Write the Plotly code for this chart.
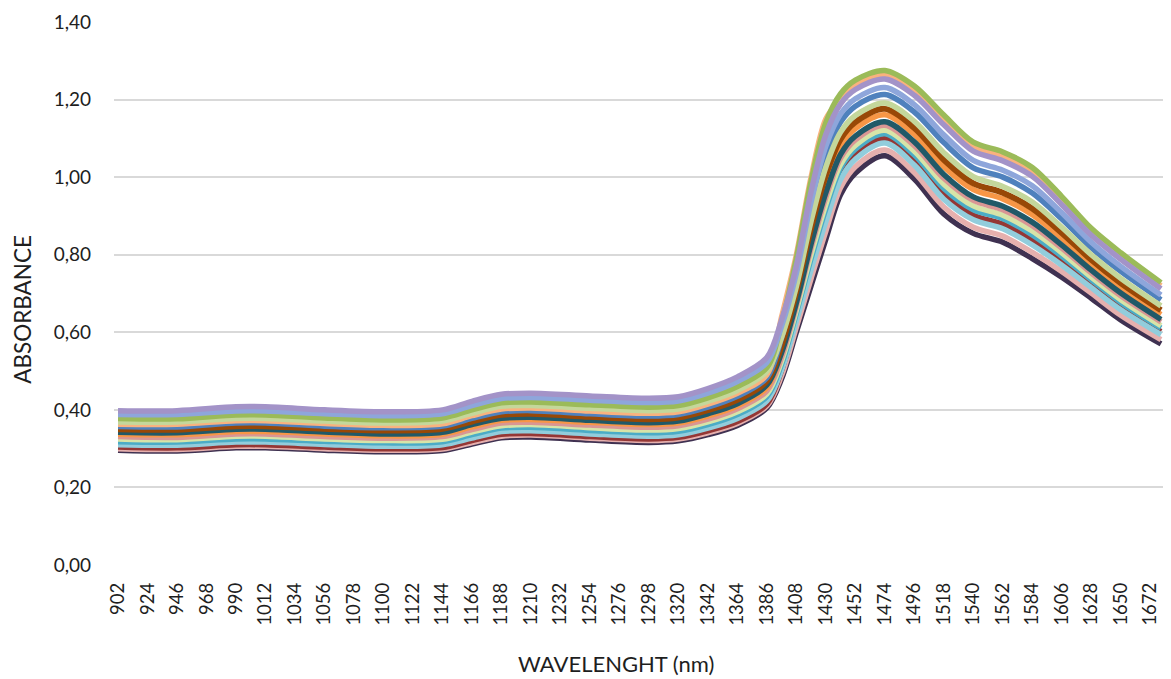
import plotly.graph_objects as go

wavelength = [902, 946, 990, 1012, 1056, 1100, 1144, 1166, 1188, 1210, 1254, 1298, 1320, 1342,
              1364, 1386, 1397, 1408, 1419, 1430, 1441, 1452, 1474, 1496, 1518, 1540, 1562,
              1584, 1606, 1628, 1650, 1680]

tick_values = list(range(902, 1673, 22))
tick_labels = [str(v) for v in tick_values]

s_purple = [.398, .398, .408, .408, .400, .395, .400, .422, .440, .443, .436, .430, .434, .455, .485, .535,
            .632, .771, .963, 1.110, 1.189, 1.226, 1.253, 1.211, 1.135, 1.067, 1.042, 1.002, .929, .850, .788, .712]
s_periwinkle = [.388, .388, .397, .397, .390, .385, .390, .411, .429, .432, .425, .419, .423, .443, .473, .522,
                .616, .752, .936, 1.080, 1.163, 1.202, 1.231, 1.187, 1.109, 1.043, 1.018, .978, .908, .832, .770, .696]
s_green = [.378, .377, .387, .387, .379, .374, .379, .400, .418, .420, .413, .407, .411, .431, .460, .509,
           .624, .790, .990, 1.140, 1.215, 1.250, 1.275, 1.235, 1.160, 1.090, 1.065, 1.025, .950, .868, .805, .728]
s_lightgreen = [.369, .369, .378, .378, .371, .366, .371, .391, .409, .411, .404, .398, .402, .422, .450, .499,
                .587, .718, .887, 1.026, 1.116, 1.159, 1.191, 1.144, 1.063, 1.001, .976, .936, .871, .800, .739, .668]
s_lightorange = [.363, .363, .372, .372, .365, .360, .364, .385, .402, .405, .397, .391, .395, .415, .443, .491,
                 .640, .800, 1.000, 1.150, 1.202, 1.238, 1.264, 1.223, 1.147, 1.078, 1.053, 1.013, .939, .859, .796, .720]
s_blue = [.357, .356, .366, .366, .358, .354, .358, .378, .395, .398, .390, .384, .388, .407, .435, .483,
          .586, .737, .914, 1.056, 1.142, 1.183, 1.213, 1.168, 1.089, 1.024, 1.000, .959, .892, .818, .757, .684]
s_brown = [.350, .349, .358, .358, .351, .347, .351, .370, .387, .390, .382, .376, .380, .399, .426, .474,
           .566, .705, .869, 1.005, 1.098, 1.142, 1.176, 1.127, 1.045, .984, .960, .919, .856, .787, .727, .657]
s_darkteal = [.342, .341, .350, .350, .343, .338, .342, .362, .378, .381, .373, .367, .371, .390, .416, .464,
              .548, .676, .828, .960, 1.059, 1.106, 1.143, 1.091, 1.007, .949, .925, .884, .825, .760, .701, .633]
s_orange = [.337, .336, .344, .344, .338, .333, .337, .356, .373, .375, .368, .362, .366, .384, .410, .457,
            .550, .691, .850, .984, 1.080, 1.125, 1.161, 1.110, 1.027, .968, .944, .903, .842, .774, .715, .646]
s_pink = [.331, .329, .338, .338, .331, .327, .331, .349, .366, .368, .361, .355, .359, .376, .403, .449,
          .536, .668, .817, .948, 1.049, 1.096, 1.134, 1.081, .997, .940, .916, .875, .817, .753, .694, .627]
s_paleyellow = [.325, .323, .332, .332, .325, .321, .324, .343, .359, .362, .354, .348, .352, .369, .395, .441,
                .526, .657, .801, .930, 1.033, 1.082, 1.121, 1.067, .982, .926, .902, .861, .805, .742, .684, .617]
s_aqua = [.318, .317, .325, .325, .319, .315, .318, .336, .353, .355, .347, .341, .345, .362, .388, .434,
          .518, .649, .790, .918, 1.023, 1.072, 1.112, 1.057, .971, .916, .893, .851, .796, .735, .677, .611]
s_lightaqua = [.310, .309, .317, .317, .311, .306, .310, .327, .344, .346, .338, .332, .336, .353, .378, .423,
               .503, .629, .761, .885, .994, 1.046, 1.088, 1.031, .943, .890, .867, .825, .773, .715, .658, .594]
s_darkred = [.304, .302, .310, .310, .304, .300, .303, .321, .337, .339, .331, .325, .329, .346, .370, .415,
             .502, .638, .774, .900, 1.007, 1.058, 1.099, 1.043, .956, .902, .879, .837, .784, .724, .667, .602]
s_salmon = [.300, .298, .306, .306, .300, .296, .299, .316, .332, .335, .327, .321, .325, .341, .365, .410,
            .489, .613, .739, .861, .973, 1.027, 1.070, 1.012, .923, .871, .848, .806, .757, .701, .644, .581]
s_navy = [.296, .294, .302, .302, .296, .292, .295, .312, .328, .330, .322, .316, .320, .336, .360, .405,
          .480, .600, .720, .840, .955, 1.010, 1.055, .995, .905, .855, .832, .790, .742, .688, .632, .570]

# drawn bottom-most first
series = [
    ("navy", s_navy, "#3F3151"),
    ("salmon", s_salmon, "#E6B0AE"),
    ("darkred", s_darkred, "#953735"),
    ("lightaqua", s_lightaqua, "#92CDDC"),
    ("aqua", s_aqua, "#4BACC6"),
    ("paleyellow", s_paleyellow, "#D7E4A8"),
    ("pink", s_pink, "#D99694"),
    ("orange", s_orange, "#F79646"),
    ("darkteal", s_darkteal, "#215968"),
    ("brown", s_brown, "#984807"),
    ("blue", s_blue, "#4F81BD"),
    ("lightorange", s_lightorange, "#F9B27E"),
    ("lightgreen", s_lightgreen, "#C4D79B"),
    ("green", s_green, "#9BBB59"),
    ("periwinkle", s_periwinkle, "#8EA6DB"),
    ("purple", s_purple, "#A393C8"),
]

fig = go.Figure()
for name, vals, color in series:
    fig.add_trace(go.Scatter(
        x=wavelength, y=vals, mode="lines", name=name,
        line=dict(color=color, width=6 if name == "brown" else 5.5, shape="spline", smoothing=0.9),
        hoverinfo="skip",
    ))

font_family = "Lato, 'Open Sans', sans-serif"
text_color = "#1E1E1E"

# page body has an 8px offset, so the figure is sized to fit the window exactly
fig.update_layout(
    width=1163, height=671,
    margin=dict(l=106, r=8, t=14, b=114, autoexpand=False),
    paper_bgcolor="white", plot_bgcolor="white",
    showlegend=False,
    separators=",.",
    font=dict(family=font_family, size=18, color=text_color),
    xaxis=dict(
        range=[899, 1681.5],
        tickmode="array", tickvals=tick_values, ticktext=tick_labels,
        tickangle=-90, showgrid=False, zeroline=False, showline=False,
        ticks="", ticklabelstandoff=13,
        tickfont=dict(size=18.5, color=text_color),
    ),
    yaxis=dict(
        range=[0, 1.4], tickmode="array", tickvals=[0, 0.2, 0.4, 0.6, 0.8, 1.0, 1.2, 1.4],
        tickformat=".2f", showgrid=True, gridcolor="#D9D9D9", gridwidth=1.5,
        zeroline=False, showline=False, ticks="", ticklabelstandoff=22,
        tickfont=dict(size=19, color=text_color),
    ),
    annotations=[
        dict(text="WAVELENGHT (nm)", xref="paper", yref="paper", x=0.4786, y=0,
             yshift=-98, xanchor="center", yanchor="middle", showarrow=False,
             font=dict(size=22, color=text_color)),
        dict(text="ABSORBANCE", xref="paper", yref="paper", x=0, y=0.47,
             xshift=-91, xanchor="center", yanchor="middle", textangle=-90,
             showarrow=False, font=dict(size=22.5, color=text_color)),
    ],
)

fig.write_html("out.html")
